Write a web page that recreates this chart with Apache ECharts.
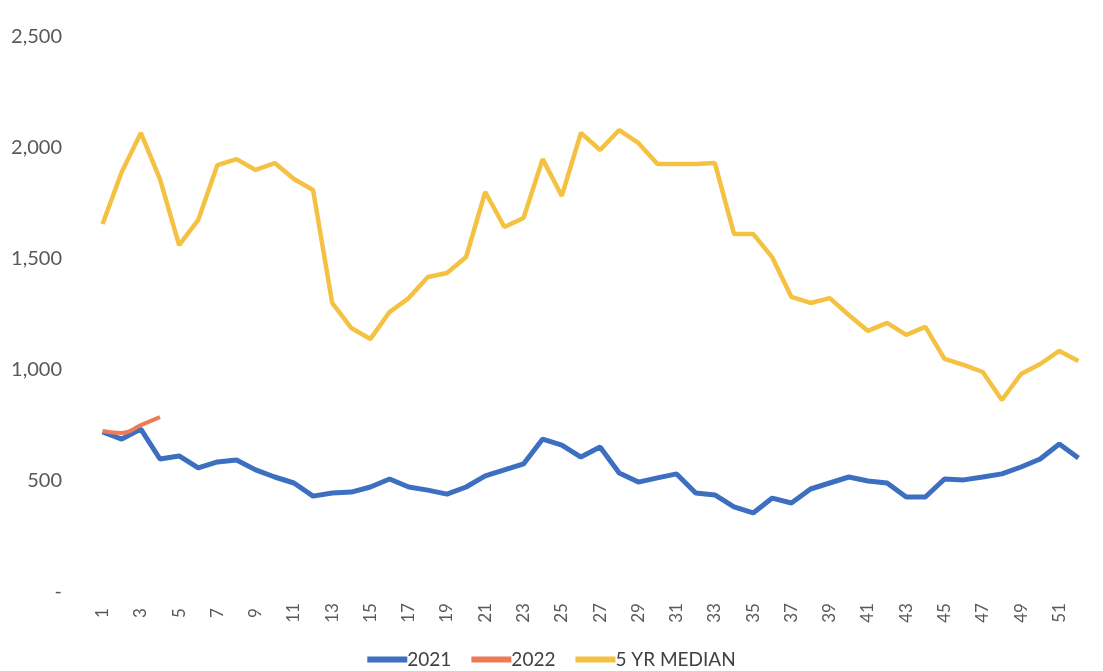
<!DOCTYPE html>
<html>
<head>
<meta charset="utf-8">
<script src="https://cdn.jsdelivr.net/npm/echarts@6/dist/echarts.min.js"></script>
<style>
html,body{margin:0;padding:0;background:#fff;}
#chart{width:1103px;height:671px;}
</style>
</head>
<body>
<div id="chart"></div>
<script>
const weeks = Array.from({length: 52}, (_, i) => String(i + 1));
const series2021 = [721,689,734,599,613,559,586,595,550,518,491,432,446,450,473,509,473,459,441,473,523,550,577,689,662,608,653,536,495,514,532,446,437,383,356,423,401,464,491,518,500,491,428,428,509,505,518,532,563,599,667,604];
const series2022 = [725,716,752,788];
const median5yr = [1658,1892,2068,1860,1563,1676,1923,1950,1901,1932,1860,1811,1302,1189,1140,1261,1324,1419,1437,1509,1802,1644,1685,1950,1784,2068,1991,2081,2023,1928,1928,1928,1932,1613,1613,1507,1329,1302,1324,1248,1176,1212,1158,1194,1050,1023,991,865,982,1027,1086,1041];
const yTicks = [0, 500, 1000, 1500, 2000, 2500];

const chart = echarts.init(document.getElementById('chart'));
const fontFamily = 'Lato, "Liberation Sans", sans-serif';
chart.setOption({
  animation: false,
  backgroundColor: '#ffffff',
  grid: {left: 93, right: 15, top: 37, bottom: 79},
  legend: {
    top: 645,
    left: 'center',
    itemWidth: 40,
    itemHeight: 6,
    itemGap: 20,
    icon: 'rect',
    textStyle: {color: '#404040', fontSize: 19, fontFamily: fontFamily, padding: [0, 0, 0, -5]},
    data: ['2021', '2022', '5 YR MEDIAN']
  },
  xAxis: {
    type: 'category',
    data: weeks,
    boundaryGap: true,
    axisLine: {show: false},
    axisTick: {show: false},
    axisLabel: {
      interval: 1,
      rotate: 90,
      align: 'center',
      verticalAlign: 'middle',
      color: '#595959',
      fontSize: 17,
      fontFamily: fontFamily,
      margin: 21
    }
  },
  yAxis: {
    type: 'value',
    min: 0,
    max: 2500,
    interval: 500,
    splitLine: {show: false},
    axisLine: {show: false},
    axisTick: {show: false},
    axisLabel: {
      color: '#595959',
      fontSize: 20,
      fontFamily: fontFamily,
      margin: 31,
      formatter: function (v) {
        if (v === 0) return '-';
        return v.toLocaleString('en-US');
      }
    }
  },
  series: [
    {
      name: '2021',
      type: 'line',
      data: series2021,
      symbol: 'none',
      lineStyle: {color: '#3D6FC1', width: 5},
      itemStyle: {color: '#3D6FC1'},
      z: 3
    },
    {
      name: '2022',
      type: 'line',
      data: series2022,
      symbol: 'none',
      smooth: true,
      lineStyle: {color: '#EE7B55', width: 4},
      itemStyle: {color: '#EE7B55'},
      z: 4
    },
    {
      name: '5 YR MEDIAN',
      type: 'line',
      data: median5yr,
      symbol: 'none',
      lineStyle: {color: '#F5C142', width: 4.5},
      itemStyle: {color: '#F5C142'},
      z: 2
    }
  ]
});
</script>
</body>
</html>
